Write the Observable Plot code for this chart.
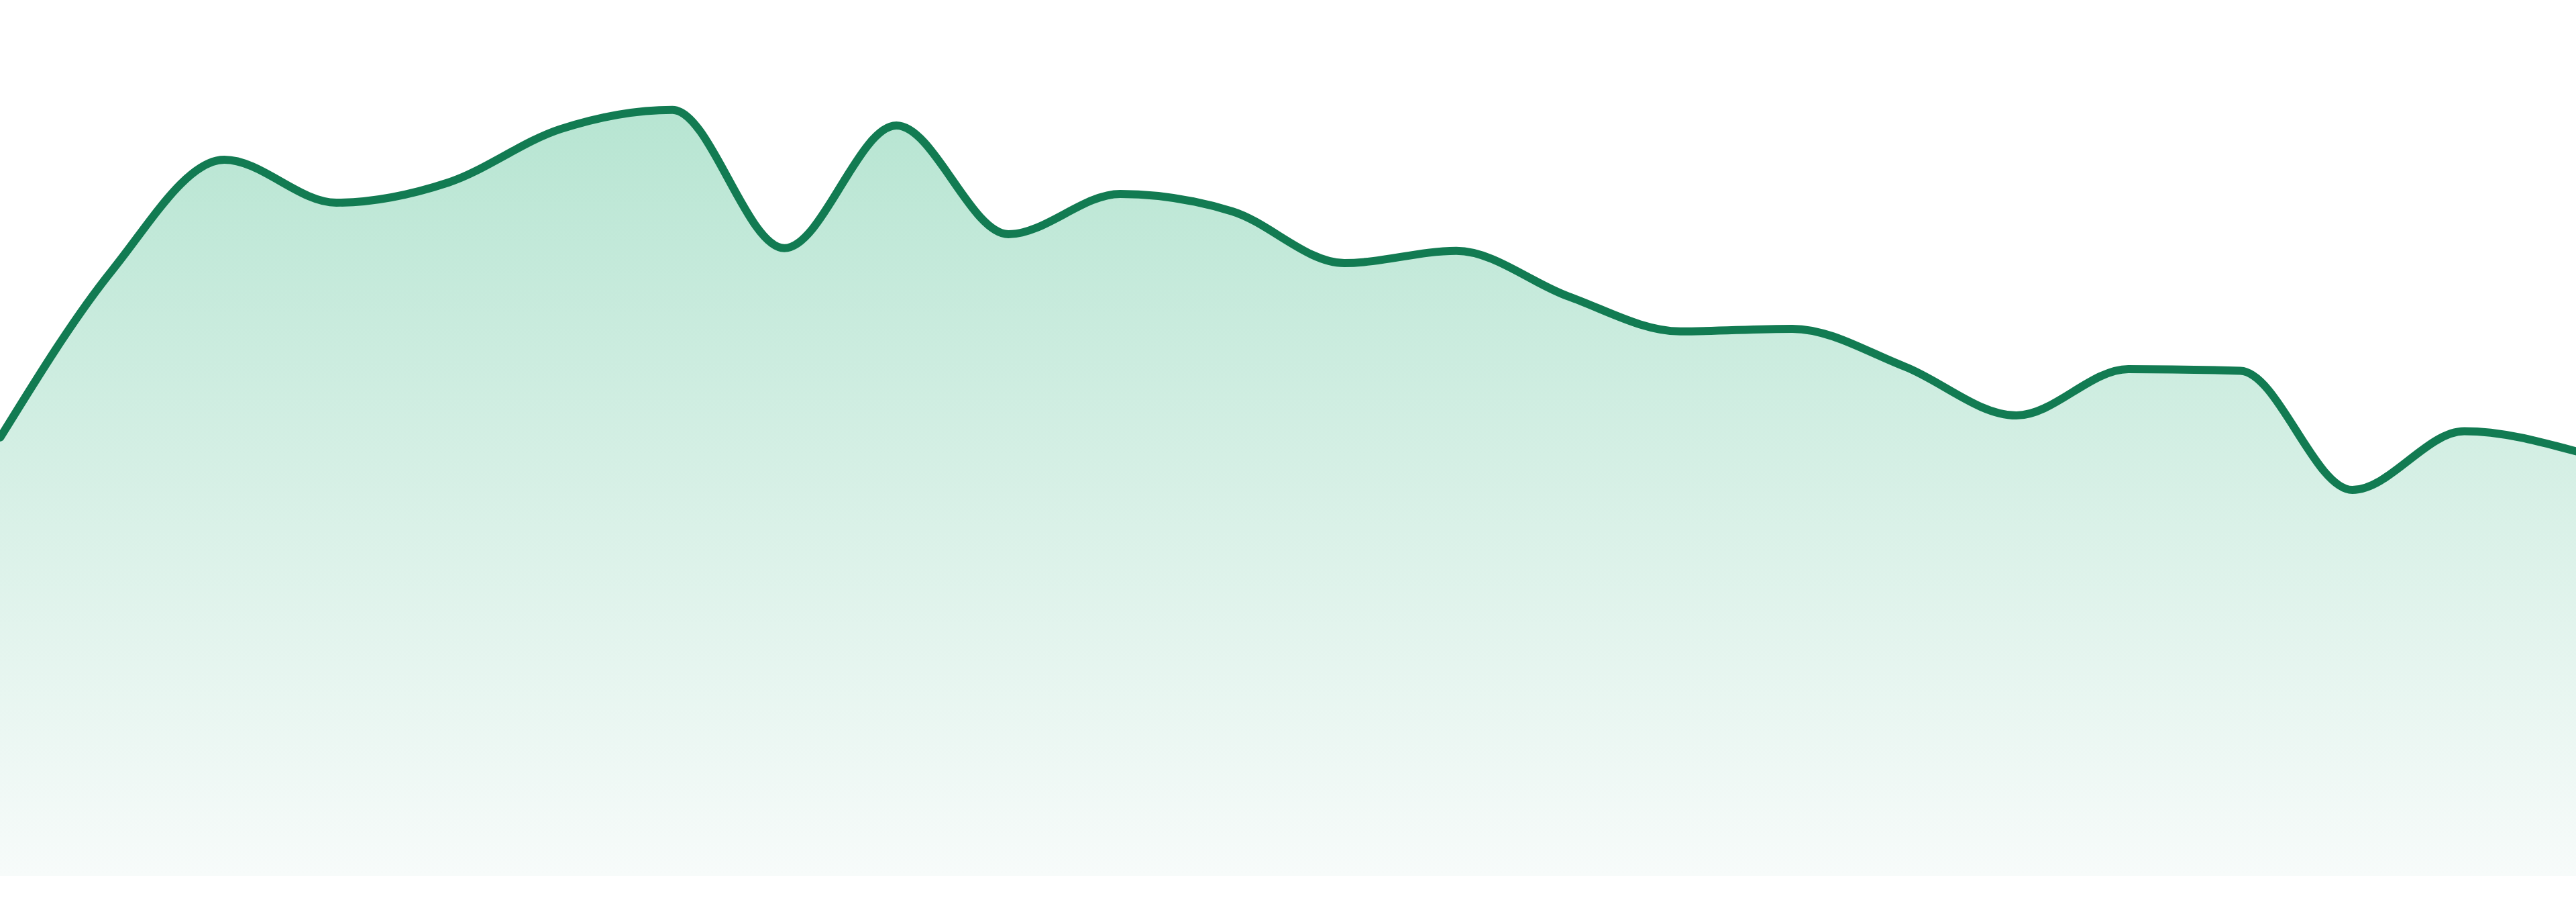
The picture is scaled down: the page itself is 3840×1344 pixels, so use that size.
<!DOCTYPE html>
<html>
<head>
<meta charset="utf-8">
<script src="https://cdn.jsdelivr.net/npm/d3@7"></script>
<script src="https://cdn.jsdelivr.net/npm/@observablehq/plot@0.6"></script>
<style>
  html, body { margin: 0; padding: 0; background: #ffffff; overflow: hidden; }
  #chart svg { display: block; }
</style>
</head>
<body>
<div id="chart"></div>
<script>
// Categories (periods) and series values
const periods = [1, 2, 3, 4, 5, 6, 7, 8, 9, 10, 11, 12, 13, 14, 15, 16, 17, 18, 19, 20, 21, 22, 23, 24];
const values = [50.1, 69.2, 81.8, 76.9, 79.2, 85.3, 87.5, 71.7, 85.7, 73.3, 77.9, 75.9,
                70.0, 71.4, 66.2, 62.2, 62.5, 58.2, 52.6, 57.9, 57.7, 44.1, 50.8, 48.5];

const lineColor = "#127b52";
const gradTop = "#b7e5d2";
const gradBottom = "#f7fbfa";

const data = periods.map((p, i) => ({ period: p, value: values[i] }));
const maxValue = d3.max(values);

const gradientDefs = (index, scales) => {
  const defs = d3.create("svg:defs");
  const g = defs.append("linearGradient")
    .attr("id", "areaGrad")
    .attr("gradientUnits", "userSpaceOnUse")
    .attr("x1", 0).attr("x2", 0)
    .attr("y1", scales.y(maxValue))
    .attr("y2", scales.y(0));
  g.append("stop").attr("offset", "0%").attr("stop-color", gradTop);
  g.append("stop").attr("offset", "100%").attr("stop-color", gradBottom);
  return defs.node();
};

const chart = Plot.plot({
  width: 3840,
  height: 1344,
  marginTop: 0,
  marginRight: 0,
  marginBottom: 39,
  marginLeft: 0,
  x: { domain: [periods[0], periods[periods.length - 1]], axis: null },
  y: { domain: [0, 100], axis: null },
  marks: [
    gradientDefs,
    Plot.areaY(data, { x: "period", y: "value", curve: "monotone-x", fill: "url(#areaGrad)" }),
    Plot.lineY(data, { x: "period", y: "value", curve: "monotone-x", stroke: lineColor, strokeWidth: 12 })
  ]
});

document.getElementById("chart").appendChild(chart);
</script>
</body>
</html>
